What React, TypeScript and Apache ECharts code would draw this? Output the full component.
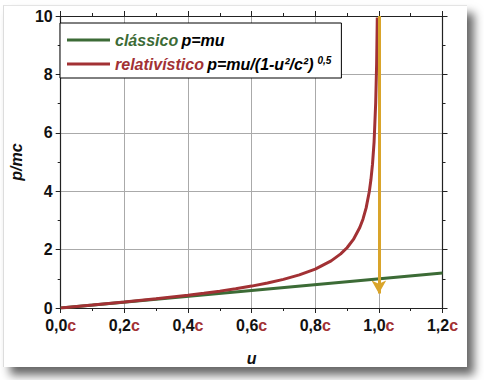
import React, { useEffect, useRef } from "react";
import * as echarts from "echarts";

const classicU = [0, 1.2];
const classicP = [0, 1.2];

const relU = [0, 0.1, 0.2, 0.3, 0.4, 0.45, 0.5, 0.55, 0.6, 0.65, 0.7, 0.75, 0.8, 0.85, 0.88, 0.9, 0.92, 0.94, 0.95, 0.96, 0.97, 0.975, 0.98, 0.985, 0.99, 0.993, 0.995];
const relP = [0, 0.1005, 0.2041, 0.3145, 0.4364, 0.5039, 0.5774, 0.6586, 0.75, 0.8553, 0.9802, 1.1339, 1.3333, 1.6135, 1.8526, 2.0647, 2.3474, 2.7553, 3.0424, 3.4286, 3.9895, 4.3899, 4.9247, 5.6923, 7.018, 8.3745, 9.9499];

const arrowFrom = [1.0, 10];
const arrowTo = [1.0, 0.5];

const xTicks = { min: 0, max: 1.2, interval: 0.2 };
const yTicks = { min: 0, max: 10, interval: 2 };

const GREEN = "#3c6b36";
const RED = "#a23134";
const GOLD = "#d9a42a";
const FONT = "'Liberation Sans', Arial, sans-serif";

export default function App() {
  const ref = useRef<HTMLDivElement>(null);
  useEffect(() => {
    if (!ref.current) return;
    const chart = echarts.init(ref.current, undefined, { renderer: "svg" });
    const axisLine = { show: true, onZero: false, lineStyle: { color: "#222", width: 1.2 } };
    const tick = { show: true, inside: false, length: 5, lineStyle: { color: "#222" } };
    const minor = { show: true, splitNumber: 2, length: 3, lineStyle: { color: "#222" } };
    chart.setOption({
      animation: false,
      textStyle: { fontFamily: FONT },
      grid: { left: 53, top: 16, right: 41.5, bottom: 72 },
      legend: {
        left: 60,
        top: 23,
        orient: "vertical",
        backgroundColor: "#fff",
        borderColor: "#000",
        borderWidth: 1,
        borderRadius: 0,
        padding: [9, 10, 6, 7],
        itemGap: 7,
        itemWidth: 43,
        itemHeight: 3,
        icon: "rect",
        data: ["classico", "relativistico"],
        formatter: (name: string) =>
          name === "classico"
            ? "{g|clássico} {b|p=mu}"
            : "{r|relativístico} {b|p=mu/(1-u²/c²)}{s|0,5}",
        textStyle: {
          rich: {
            g: { color: GREEN, fontWeight: "bold", fontStyle: "italic", fontSize: 16, fontFamily: FONT, lineHeight: 18 },
            r: { color: RED, fontWeight: "bold", fontStyle: "italic", fontSize: 16, fontFamily: FONT, lineHeight: 18 },
            b: { color: "#000", fontWeight: "bold", fontStyle: "italic", fontSize: 16, fontFamily: FONT, lineHeight: 18 },
            s: { color: "#000", fontWeight: "bold", fontStyle: "italic", fontSize: 10, fontFamily: FONT, verticalAlign: "top", lineHeight: 18, padding: [0, 0, 0, 4] },
          },
        },
      },
      xAxis: [
        {
          type: "value",
          position: "bottom",
          ...xTicks,
          axisLine,
          axisTick: tick,
          minorTick: minor,
          splitLine: { show: true, lineStyle: { color: "#aaa", width: 1 } },
          axisLabel: {
            margin: 9,
            formatter: (v: number) => "{n|" + v.toFixed(1).replace(".", ",") + "}{c|c}",
            rich: {
              n: { color: "#111", fontWeight: "bold", fontSize: 16, fontFamily: FONT },
              c: { color: RED, fontWeight: "bold", fontSize: 16, fontFamily: FONT },
            },
          },
          name: "u",
          nameLocation: "middle",
          nameGap: 42,
          nameTextStyle: { color: "#111", fontWeight: "bold", fontStyle: "italic", fontSize: 16, fontFamily: FONT },
        },
        {
          type: "value",
          position: "top",
          ...xTicks,
          axisLine,
          axisTick: tick,
          minorTick: minor,
          splitLine: { show: false },
          axisLabel: { show: false },
        },
      ],
      yAxis: [
        {
          type: "value",
          position: "left",
          ...yTicks,
          axisLine,
          axisTick: tick,
          minorTick: minor,
          splitLine: { show: true, lineStyle: { color: "#aaa", width: 1 } },
          axisLabel: { margin: 8, color: "#111", fontWeight: "bold", fontSize: 16, fontFamily: FONT },
          name: "p/mc",
          nameLocation: "middle",
          nameGap: 33,
          nameTextStyle: { color: "#111", fontWeight: "bold", fontStyle: "italic", fontSize: 16, fontFamily: FONT },
        },
        {
          type: "value",
          position: "right",
          ...yTicks,
          axisLine,
          axisTick: tick,
          minorTick: minor,
          splitLine: { show: false },
          axisLabel: { show: false },
        },
      ],
      series: [
        {
          name: "classico",
          type: "line",
          xAxisIndex: 0,
          yAxisIndex: 0,
          showSymbol: false,
          symbol: "none",
          color: GREEN,
          lineStyle: { color: GREEN, width: 3 },
          data: classicU.map((u, i) => [u, classicP[i]]),
          z: 3,
        },
        {
          name: "relativistico",
          type: "line",
          xAxisIndex: 0,
          yAxisIndex: 0,
          showSymbol: false,
          symbol: "none",
          color: RED,
          lineStyle: { color: RED, width: 3 },
          clip: true,
          data: relU.map((u, i) => [u, relP[i]]),
          z: 4,
          markLine: {
            silent: true,
            symbol: ["none", "arrow"],
            symbolSize: [11, 13],
            label: { show: false },
            lineStyle: { color: GOLD, width: 3, type: "solid" },
            data: [[{ coord: arrowFrom }, { coord: arrowTo }]],
          },
        },
      ],
    });
    return () => chart.dispose();
  }, []);
  return (
    <div style={{ position: "absolute", left: 0, top: 0, width: 484, height: 380, background: "#fff", overflow: "hidden" }}>
      <div
        style={{
          position: "absolute",
          left: 3,
          top: 5,
          width: 463,
          height: 361,
          background: "#fff",
          borderLeft: "1px solid #ddd",
          borderTop: "1px solid #e4e4e4",
          boxShadow: "7px 8px 9px rgba(0,0,0,0.6)",
        }}
      />
      <div ref={ref} style={{ position: "absolute", left: 0, top: 0, width: 484, height: 380 }} />
    </div>
  );
}
